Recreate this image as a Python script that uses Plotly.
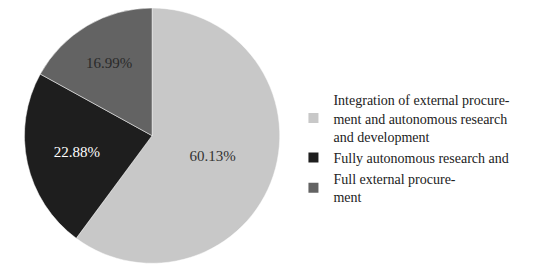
import plotly.graph_objects as go

labels = ["Integration of external procure-<br>ment and autonomous research<br>and development",
          "Fully autonomous research and",
          "Full external procure-<br>ment"]
values = [60.13, 22.88, 16.99]
texts = ["60.13%", "22.88%", "16.99%"]
colors = ["#c8c8c8", "#1e1e1e", "#636363"]
text_colors = ["#333333", "#ffffff", "#2a2a2a"]

FONT = "Liberation Serif, Times New Roman, serif"

fig = go.Figure(go.Pie(
    labels=labels, values=values, text=texts, textinfo="text",
    textposition="inside", insidetextorientation="horizontal",
    sort=False, direction="clockwise", rotation=0,
    marker=dict(colors=colors, line=dict(color="#ffffff", width=0.5)),
    textfont=dict(family=FONT, size=15, color=text_colors),
    domain=dict(x=[0.0, 0.524], y=[0.075, 1.0]),
    hoverinfo="skip",
))
fig.update_layout(
    width=550, height=276,
    margin=dict(l=0, r=0, t=0, b=0),
    paper_bgcolor="white",
    showlegend=True,
    legend=dict(x=0.519, y=0.49, xanchor="left", yanchor="middle",
                font=dict(family=FONT, size=14, color="#222222"),
                tracegroupgap=6, itemsizing="constant"),
)
fig.write_html("out.html")
